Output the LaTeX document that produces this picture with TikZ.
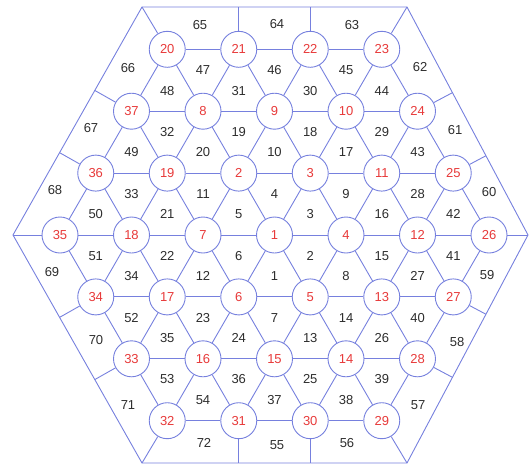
\documentclass[tikz,border=0pt]{standalone}
\usepackage{fontspec}
\setmainfont{Liberation Sans}
\usetikzlibrary{calc}
\definecolor{meshblue}{RGB}{118,128,222}
\definecolor{nodered}{RGB}{232,58,58}
\definecolor{elgray}{RGB}{45,45,45}
\tikzset{
  meshline/.style={draw=meshblue, line width=0.9pt},
  nodecirc/.style={circle, draw=meshblue, line width=0.9pt, fill=white, minimum size=36pt, inner sep=0pt, text=nodered, font=\fontsize{13}{13}\selectfont},
  ellabel/.style={inner sep=0pt, text=elgray, font=\fontsize{13}{13}\selectfont}
}
\newcommand{\nd}[3]{\node[nodecirc] (n#1) at ({274.5+(#2)*71.5},{235+(#3)*61.9}) {#1};}
\newcommand{\el}[3]{\node[ellabel] (e#1) at ({274.5+(#2)*71.5},{235+(#3)*61.9}) {#1};}
\begin{document}
\begin{tikzpicture}[x=1pt,y=-1pt]
\useasboundingbox (0,0) rectangle (531,469);
% outer hexagon
\coordinate (TL) at (142,7);
\coordinate (TR) at (407,7);
\coordinate (R) at (528,235);
\coordinate (BR) at (407,463);
\coordinate (BL) at (142,463);
\coordinate (L) at (13,235);
\draw[meshline] (TL) -- (TR) -- (R) -- (BR) -- (BL) -- (L) -- cycle;
% nodes
\nd{20}{-1.5}{-3} \nd{21}{-0.5}{-3} \nd{22}{0.5}{-3} \nd{23}{1.5}{-3}
\nd{37}{-2}{-2} \nd{8}{-1}{-2} \nd{9}{0}{-2} \nd{10}{1}{-2} \nd{24}{2}{-2}
\nd{36}{-2.5}{-1} \nd{19}{-1.5}{-1} \nd{2}{-0.5}{-1} \nd{3}{0.5}{-1} \nd{11}{1.5}{-1} \nd{25}{2.5}{-1}
\nd{35}{-3}{0} \nd{18}{-2}{0} \nd{7}{-1}{0} \nd{1}{0}{0} \nd{4}{1}{0} \nd{12}{2}{0} \nd{26}{3}{0}
\nd{34}{-2.5}{1} \nd{17}{-1.5}{1} \nd{6}{-0.5}{1} \nd{5}{0.5}{1} \nd{13}{1.5}{1} \nd{27}{2.5}{1}
\nd{33}{-2}{2} \nd{16}{-1}{2} \nd{15}{0}{2} \nd{14}{1}{2} \nd{28}{2}{2}
\nd{32}{-1.5}{3} \nd{31}{-0.5}{3} \nd{30}{0.5}{3} \nd{29}{1.5}{3}
% mesh edges
\foreach \a/\b in {20/21,21/22,22/23, 37/8,8/9,9/10,10/24, 36/19,19/2,2/3,3/11,11/25,
  35/18,18/7,7/1,1/4,4/12,12/26, 34/17,17/6,6/5,5/13,13/27, 33/16,16/15,15/14,14/28, 32/31,31/30,30/29,
  20/37,20/8,21/8,21/9,22/9,22/10,23/10,23/24,
  37/36,37/19,8/19,8/2,9/2,9/3,10/3,10/11,24/11,24/25,
  36/35,36/18,19/18,19/7,2/7,2/1,3/1,3/4,11/4,11/12,25/12,25/26,
  35/34,18/34,18/17,7/17,7/6,1/6,1/5,4/5,4/13,12/13,12/27,26/27,
  34/33,17/33,17/16,6/16,6/15,5/15,5/14,13/14,13/28,27/28,
  33/32,16/32,16/31,15/31,15/30,14/30,14/29,28/29}
  \draw[meshline] (n\a) -- (n\b);
% radial lines to outer boundary
\coordinate (p21) at ($(TL)!(n21)!(TR)$);
\coordinate (p22) at ($(TL)!(n22)!(TR)$);
\coordinate (p24) at ($(TR)!(n24)!(R)$);
\coordinate (p25) at ($(TR)!(n25)!(R)$);
\coordinate (p27) at ($(R)!(n27)!(BR)$);
\coordinate (p28) at ($(R)!(n28)!(BR)$);
\coordinate (p30) at ($(BR)!(n30)!(BL)$);
\coordinate (p31) at ($(BR)!(n31)!(BL)$);
\coordinate (p33) at ($(BL)!(n33)!(L)$);
\coordinate (p34) at ($(BL)!(n34)!(L)$);
\coordinate (p36) at ($(L)!(n36)!(TL)$);
\coordinate (p37) at ($(L)!(n37)!(TL)$);
\draw[meshline] (n20) -- (TL);
\draw[meshline] (n23) -- (TR);
\draw[meshline] (n26) -- (R);
\draw[meshline] (n29) -- (BR);
\draw[meshline] (n32) -- (BL);
\draw[meshline] (n35) -- (L);
\foreach \k in {21,22,24,25,27,28,30,31,33,34,36,37}
  \draw[meshline] (n\k) -- (p\k);
% element labels
\el{48}{-1.5}{-2.3333} \el{47}{-1}{-2.6667} \el{31}{-0.5}{-2.3333} \el{46}{0}{-2.6667}
\el{30}{0.5}{-2.3333} \el{45}{1}{-2.6667} \el{44}{1.5}{-2.3333}
\el{49}{-2}{-1.3333} \el{32}{-1.5}{-1.6667} \el{20}{-1}{-1.3333} \el{19}{-0.5}{-1.6667}
\el{10}{0}{-1.3333} \el{18}{0.5}{-1.6667} \el{17}{1}{-1.3333} \el{29}{1.5}{-1.6667} \el{43}{2}{-1.3333}
\el{50}{-2.5}{-0.3333} \el{33}{-2}{-0.6667} \el{21}{-1.5}{-0.3333} \el{11}{-1}{-0.6667}
\el{5}{-0.5}{-0.3333} \el{4}{0}{-0.6667} \el{3}{0.5}{-0.3333} \el{9}{1}{-0.6667}
\el{16}{1.5}{-0.3333} \el{28}{2}{-0.6667} \el{42}{2.5}{-0.3333}
\el{51}{-2.5}{0.3333} \el{34}{-2}{0.6667} \el{22}{-1.5}{0.3333} \el{12}{-1}{0.6667}
\el{6}{-0.5}{0.3333} \el{1}{0}{0.6667} \el{2}{0.5}{0.3333} \el{8}{1}{0.6667}
\el{15}{1.5}{0.3333} \el{27}{2}{0.6667} \el{41}{2.5}{0.3333}
\el{52}{-2}{1.3333} \el{35}{-1.5}{1.6667} \el{23}{-1}{1.3333} \el{24}{-0.5}{1.6667}
\el{7}{0}{1.3333} \el{13}{0.5}{1.6667} \el{14}{1}{1.3333} \el{26}{1.5}{1.6667} \el{40}{2}{1.3333}
\el{53}{-1.5}{2.3333} \el{54}{-1}{2.6667} \el{36}{-0.5}{2.3333} \el{37}{0}{2.6667}
\el{25}{0.5}{2.3333} \el{38}{1}{2.6667} \el{39}{1.5}{2.3333}
% boundary element labels
\node[ellabel] (e65) at (200,25) {65};
\node[ellabel] (e64) at (277,24) {64};
\node[ellabel] (e63) at (352,25) {63};
\node[ellabel] (e62) at (420,67) {62};
\node[ellabel] (e61) at (455,130) {61};
\node[ellabel] (e60) at (489,192) {60};
\node[ellabel] (e59) at (487,275) {59};
\node[ellabel] (e58) at (457,342) {58};
\node[ellabel] (e57) at (418,405) {57};
\node[ellabel] (e56) at (347,443) {56};
\node[ellabel] (e55) at (277,445) {55};
\node[ellabel] (e72) at (204,443) {72};
\node[ellabel] (e71) at (128,405) {71};
\node[ellabel] (e70) at (96,340) {70};
\node[ellabel] (e69) at (52,272) {69};
\node[ellabel] (e68) at (55,190) {68};
\node[ellabel] (e67) at (91,128) {67};
\node[ellabel] (e66) at (128,68) {66};
\end{tikzpicture}
\end{document}
